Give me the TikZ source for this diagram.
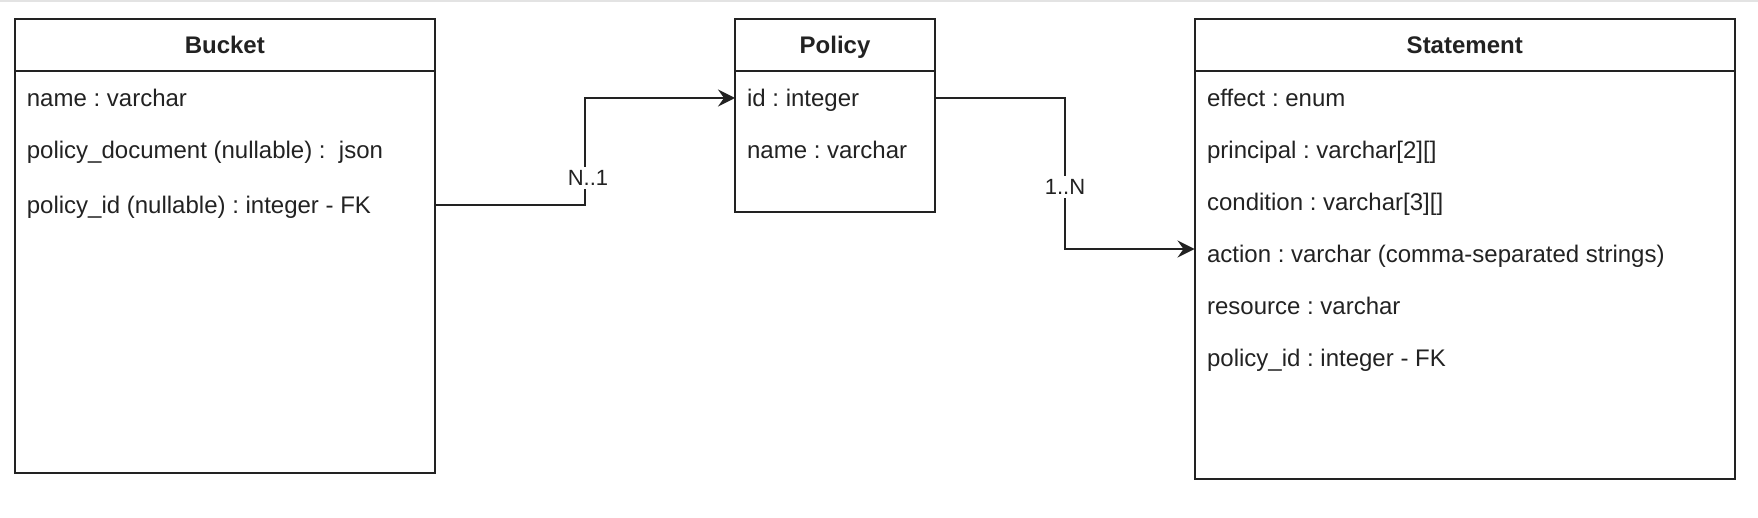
\documentclass[tikz,border=0pt]{standalone}
\usepackage{fontspec}
\setmainfont{Liberation Sans}
\usetikzlibrary{arrows.meta}
\definecolor{ink}{HTML}{222222}
\definecolor{band}{HTML}{E3E3E3}
\frenchspacing
\begin{document}
\begin{tikzpicture}[x=0.5pt,y=-0.5pt]
\tikzset{
  entity/.style={draw=ink, line width=1pt, inner sep=0pt, outer sep=0pt, anchor=north west},
  title/.style={font=\fontsize{12pt}{14pt}\selectfont\bfseries, text=ink, anchor=base, inner sep=0pt},
  field/.style={font=\fontsize{12pt}{14pt}\selectfont, text=ink, anchor=west, inner sep=0pt, text height=10.5pt, text depth=1.5pt},
  conn/.style={draw=ink, line width=1pt, -{Stealth[length=8.5pt,width=8.5pt,inset=3pt]}},
  lbl/.style={font=\fontsize{11pt}{13pt}\selectfont, text=ink, fill=white, inner sep=1.5pt},
  sep/.style={draw=ink, line width=1pt}
}
\useasboundingbox (0,0) rectangle (1758,518);
\fill[band] (0,0) rectangle (1758,2.5);

% entities
\node[entity, minimum width=210.2pt, minimum height=227pt] (bucket) at (14.6,19) {};
\node[entity, minimum width=100pt, minimum height=96.5pt] (policy) at (735,19) {};
\node[entity, minimum width=270.25pt, minimum height=230pt] (stmt) at (1194.5,19) {};

\coordinate (hdr) at (0,70.7);
\draw[sep] (bucket.west |- hdr) -- (bucket.east |- hdr);
\draw[sep] (policy.west |- hdr) -- (policy.east |- hdr);
\draw[sep] (stmt.west |- hdr) -- (stmt.east |- hdr);

% titles
\node[title] (tb) at (224.8,53.6) {Bucket};
\node[title] (tp) at (835,53.6) {Policy};
\node[title] (ts) at (1464.75,53.6) {Statement};

% fields
\node[field] (b1) at (26.5,98) {name : varchar};
\node[field] (b2) at (26.5,150) {policy\_document (nullable) :~ json};
\node[field] (b3) at (26.5,205) {policy\_id (nullable) : integer - FK};

\node[field] (p1) at (746.7,98) {id : integer};
\node[field] (p2) at (746.7,150) {name : varchar};

\node[field] (s1) at (1206.7,98) {effect : enum};
\node[field] (s2) at (1206.7,150) {principal : varchar[2][]};
\node[field] (s3) at (1206.7,202) {condition : varchar[3][]};
\node[field] (s4) at (1206.7,254) {action : varchar (comma-separated strings)};
\node[field] (s5) at (1206.7,306) {resource : varchar};
\node[field] (s6) at (1206.7,358) {policy\_id : integer - FK};

% connectors
\coordinate (bend1) at (585,0);
\coordinate (bend2) at (1065,0);
\coordinate (arr) at (0,249);
\draw[conn] (b3 -| bucket.east) -- (b3 -| bend1) -- (p1 -| bend1) -- (p1 -| policy.west);
\draw[conn] (p1 -| policy.east) -- (p1 -| bend2) -- (arr -| bend2) -- (arr -| stmt.west);

\node[lbl] (l1) at (588,178) {N..1};
\node[lbl] (l2) at (1065,187) {1..N};
\end{tikzpicture}
\end{document}
